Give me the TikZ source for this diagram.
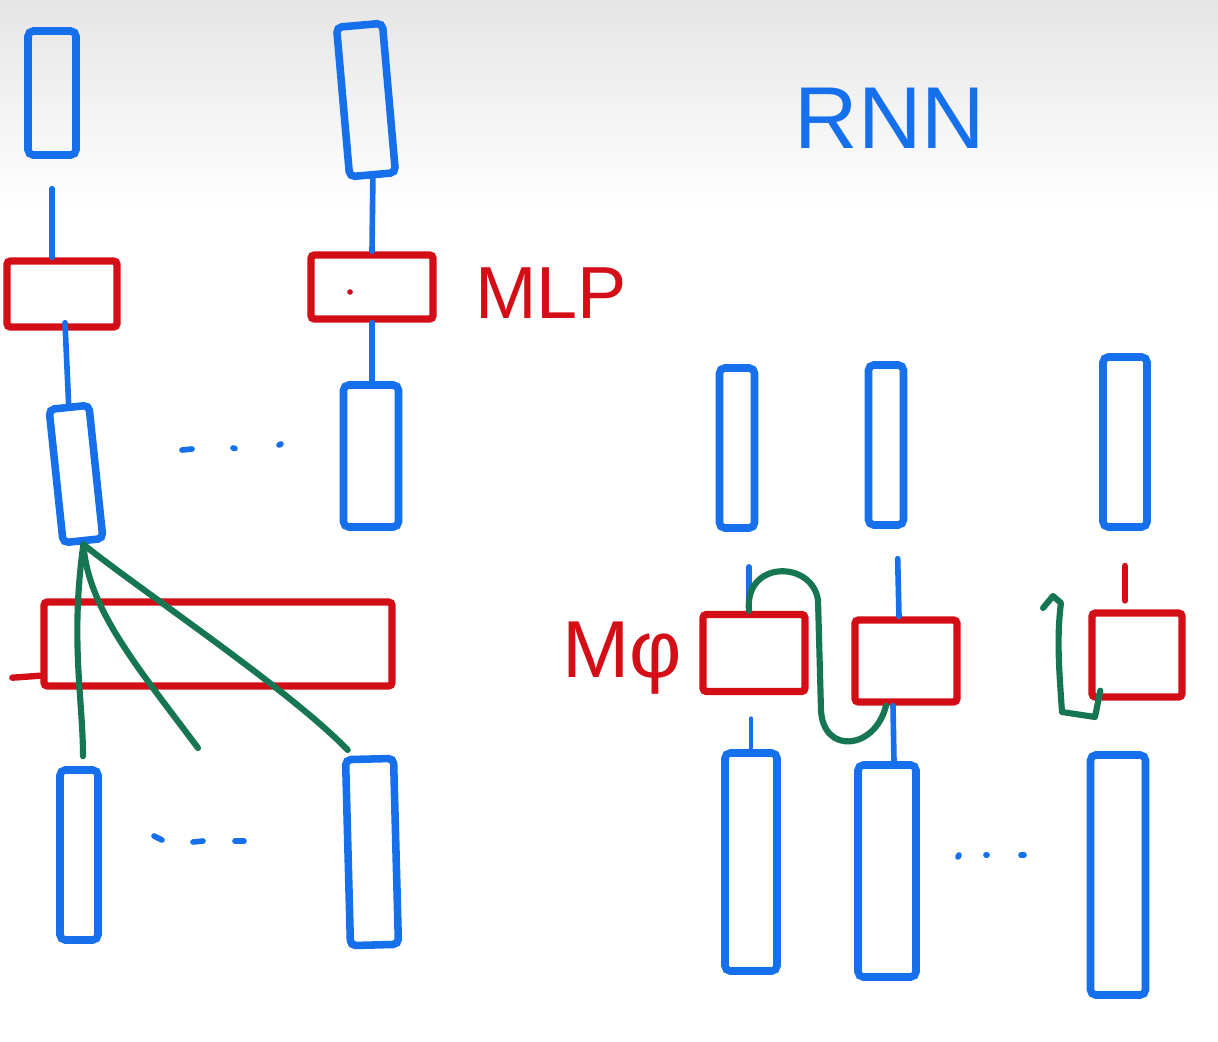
\documentclass[tikz,border=0pt]{standalone}
\usepackage{fontspec}
\setmainfont{Liberation Sans}
\usetikzlibrary{calc}
\definecolor{pblue}{RGB}{22,112,235}
\definecolor{pred}{RGB}{212,14,22}
\definecolor{pgreen}{RGB}{22,118,82}
\newdimen\pxu \pxu=0.02cm
\tikzset{
  vbox/.style 2 args={draw=pblue,line width=4.3pt,rounded corners=3pt,inner sep=0pt,
    minimum width=#1*\pxu,minimum height=#2*\pxu},
  rbox/.style 2 args={draw=pred,line width=4.2pt,rounded corners=2pt,inner sep=0pt,
    minimum width=#1*\pxu,minimum height=#2*\pxu},
  bline/.style={draw=pblue,line width=3.2pt,line cap=round},
  bthin/.style={draw=pblue,line width=2pt,line cap=round},
  rline/.style={draw=pred,line width=3.6pt,line cap=round},
  gline/.style={draw=pgreen,line width=3.5pt,line cap=round,line join=round},
  bdot/.style={draw=pblue,line width=3.2pt,line cap=round},
  lbl/.style={inner sep=0pt}
}
\begin{document}
\begin{tikzpicture}[x=0.02cm,y=-0.02cm]
\useasboundingbox (0,0) rectangle (1218,1042);
\fill[white] (0,0) rectangle (1218,1042);
\shade[top color=black!10,bottom color=white] (0,0) rectangle (1218,210);

% ---------- left part ----------
\node[vbox={48}{124}] (A1) at (52,93) {};
\node[rbox={110}{66}] (MA) at (62,294) {};
\node[vbox={40}{134},rotate=6] (A3) at (76,474) {};
\node[vbox={46}{150},rotate=5] (B1) at (366,100) {};
\node[rbox={122}{64}] (MB) at (372,287) {};
\node[vbox={55}{142}] (B3) at (371,456) {};
\node[rbox={348}{84}] (BIG) at (218,644) {};
\node[vbox={38}{170}] (C1) at (79,855) {};
\node[vbox={48}{186},rotate=1.5] (C2) at (372,852) {};

\draw[bline,shorten <=17pt] (A1.south) -- (A1.south |- MA.north);
\draw[bline] ($(MA.south)+(3,-8)$) -- (A3.north);
\draw[bline] (B1.south) -- (MB.north);
\draw[bline] (MB.south) -- (MB.south |- B3.north);
\fill[pred] (350,292) circle (1.6pt);
\draw[rline] ($(BIG.south west)+(0,-14)$) -- ++(-28,2);

\coordinate (gfree) at (198,748);
\draw[gline] (A3.south) .. controls (70,640) and (83,700) .. ($(C1.north)+(4,-10)$);
\draw[gline] (A3.south) .. controls (88,610) and (140,670) .. (gfree);
\draw[gline] (A3.south) .. controls (140,590) and (290,690) .. ($(C2.north west)+(6,-6)$);

\draw[bdot] (182,450) -- (192,449);
\draw[bdot] (233,448) -- (235,448.5);
\draw[bdot] (279,445) -- (281,444);
\draw[bdot] (154,836) -- (162,840);
\draw[bdot] (193,842) -- (203,841);
\draw[bdot] (235,841) -- (244,841);

\node[lbl,text=pred,font=\fontsize{42}{42}\selectfont] (mlp) at (551,293) {MLP};
\node[lbl,text=pblue,font=\fontsize{50}{50}\selectfont] (rnn) at (890,118) {RNN};

% ---------- right part ----------
\node[vbox={35}{160}] (R1) at (737,448) {};
\node[vbox={35}{160}] (R2) at (886,445) {};
\node[vbox={44}{170}] (R3) at (1125,442) {};
\node[rbox={102}{77}] (M1) at (754,653) {};
\node[rbox={102}{82}] (M2) at (906,661) {};
\node[rbox={90}{84}] (M3) at (1137,655) {};
\node[vbox={52}{218}] (D1) at (751,862) {};
\node[vbox={58}{212}] (D2) at (887,871) {};
\node[vbox={55}{240}] (D3) at (1118,875) {};

\node[lbl,text=pred,font=\fontsize{46}{46}\selectfont] (mphi) at (622,658) {Mφ};

\draw[bline,shorten <=20pt] ($(R1.south)+(12,0)$) -- ($(M1.north)+(-5,0)$);
\draw[bline,shorten <=17pt] ($(R2.south)+(11,0)$) -- ($(M2.north)+(-7,0)$);
\draw[rline,shorten <=20pt,shorten >=5pt] (R3.south) -- (R3.south |- M3.north);
\draw[bthin,shorten <=13pt] ($(M1.south)+(-3,0)$) -- ($(D1.north)+(0,0)$);
\draw[bline] ($(M2.south)+(-13,0)$) -- ($(D2.north)+(7,0)$);

\draw[gline] ($(M1.north)+(-5,0)$) .. controls (744,560) and (812,560) .. (818,600)
  -- (821,710) .. controls (823,755) and (875,750) .. ($(M2.south)+(-20,0)$);
\coordinate (hook) at (1043,608);
\draw[gline] (hook) -- (1053,596) -- (1061,603) .. controls (1056,640) and (1060,680) .. (1062,712)
  -- (1095,717) -- ($(M3.south west)+(12,-10)$);

\draw[bdot] (958,857) -- (959,855);
\draw[bdot] (986,855) -- (987,855);
\draw[bdot] (1021,855) -- (1024,855);
\end{tikzpicture}
\end{document}
